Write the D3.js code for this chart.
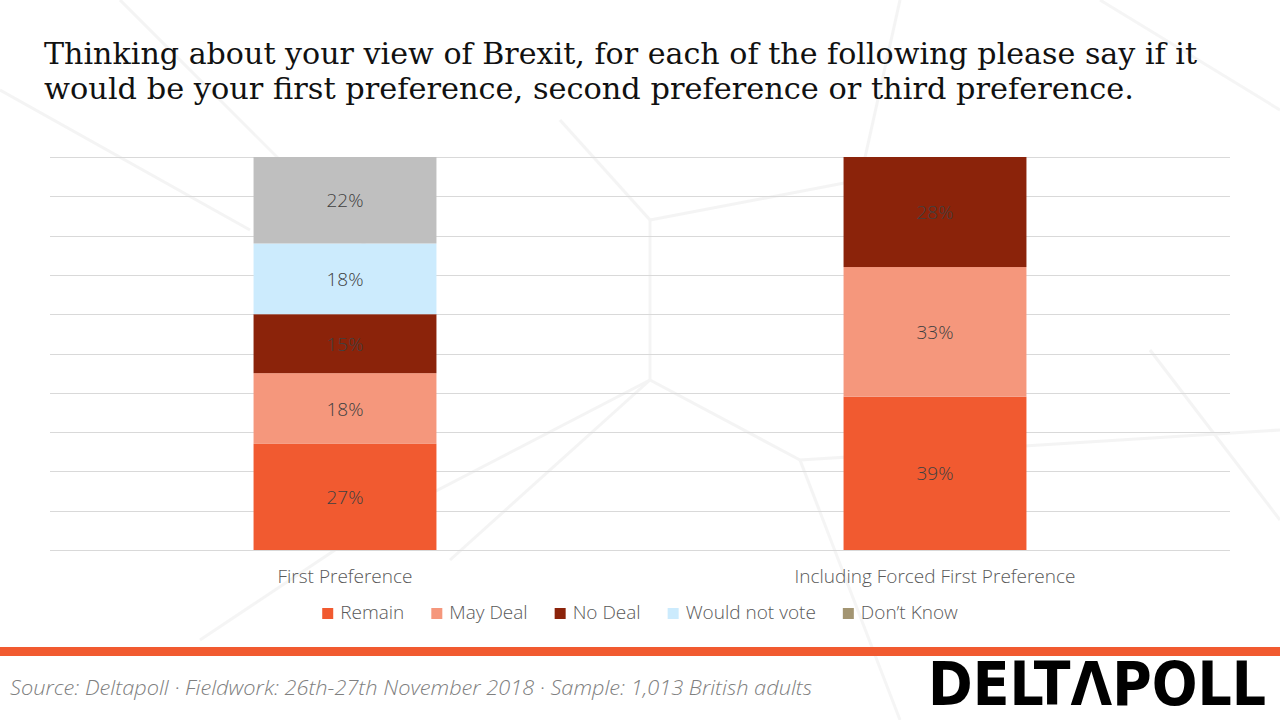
<!DOCTYPE html>
<html>
<head>
<meta charset="utf-8">
<script src="https://cdn.jsdelivr.net/npm/d3@7"></script>
<style>
  html, body { margin: 0; padding: 0; background: #ffffff; }
  svg { display: block; }
</style>
</head>
<body>
<svg id="chart" width="1280" height="720"></svg>
<script>
// ---------- data ----------
const titleLines = [
  "Thinking about your view of Brexit, for each of the following please say if it",
  "would be your first preference, second preference or third preference."
];
const categories = ["First Preference", "Including Forced First Preference"];
const seriesNames = ["Remain", "May Deal", "No Deal", "Would not vote", "Don\u2019t Know"];
const remain = [27, 39];
const mayDeal = [18, 33];
const noDeal = [15, 28];
const wouldNotVote = [18, 0];
const dontKnow = [22, 0];
const barColors = ["#F15A30", "#F5977C", "#8B230A", "#CCEBFD", "#BFBFBF"];
const legendColors = ["#F15A30", "#F5977C", "#8B230A", "#CCEBFD", "#A39572"];
const yTicks = [0, 10, 20, 30, 40, 50, 60, 70, 80, 90, 100];
const sourceText = "Source: Deltapoll \u00B7 Fieldwork:  26th-27th November 2018 \u00B7 Sample: 1,013 British  adults";
const logoText = "DELT\u039BPOLL";

// ---------- build ----------
const svg = d3.select("#chart");
const W = 1280, H = 720;
const plot = { left: 50, right: 1230, top: 157, bottom: 550 };

svg.append("rect").attr("width", W).attr("height", H).attr("fill", "#ffffff");

// faint decorative network background
const bgLines = [
  [[0, 90], [250, 230]], [[120, 0], [420, 300]], [[380, 520], [650, 380]],
  [[650, 380], [800, 460]], [[650, 220], [650, 380]], [[560, 120], [650, 220]],
  [[650, 220], [860, 180]], [[800, 460], [900, 720]], [[800, 460], [1280, 430]],
  [[1100, 0], [1280, 110]], [[900, 0], [860, 180]], [[450, 560], [650, 380]],
  [[860, 180], [1000, 330]], [[200, 640], [380, 520]], [[1150, 350], [1280, 520]]
];
const bg = svg.append("g").attr("stroke", "#EEEEEE").attr("stroke-width", 3).attr("fill", "none").attr("opacity", 0.6);
bg.selectAll("line").data(bgLines).join("line")
  .attr("x1", d => d[0][0]).attr("y1", d => d[0][1])
  .attr("x2", d => d[1][0]).attr("y2", d => d[1][1]);

// title
const title = svg.append("g");
titleLines.forEach((t, i) => {
  title.append("text")
    .attr("x", 44).attr("y", 64 + i * 35)
    .attr("font-family", "'DejaVu Serif', serif")
    .attr("font-size", 29)
    .attr("fill", "#111111")
    .attr("textLength", i === 0 ? 1153 : 1090)
    .attr("lengthAdjust", "spacingAndGlyphs")
    .text(t);
});

const x = d3.scaleBand().domain(categories)
  .range([plot.left, plot.right])
  .paddingInner(0.69).paddingOuter(0.345);
const y = d3.scaleLinear().domain([0, 100]).range([plot.bottom, plot.top]);

// gridlines
svg.append("g").selectAll("line").data(yTicks).join("line")
  .attr("x1", plot.left).attr("x2", plot.right)
  .attr("y1", d => Math.round(y(d)) + 0.5).attr("y2", d => Math.round(y(d)) + 0.5)
  .attr("stroke", "#D9D9D9").attr("stroke-width", 1);

// stack
const table = categories.map((c, i) => ({
  cat: c,
  "Remain": remain[i],
  "May Deal": mayDeal[i],
  "No Deal": noDeal[i],
  "Would not vote": wouldNotVote[i],
  "Don\u2019t Know": dontKnow[i]
}));
const stack = d3.stack().keys(seriesNames)(table);

const layers = svg.append("g").selectAll("g").data(stack).join("g")
  .attr("fill", (d, i) => barColors[i]);
layers.selectAll("rect").data(d => d.filter(p => p[1] - p[0] > 0)).join("rect")
  .attr("x", d => x(d.data.cat))
  .attr("width", x.bandwidth())
  .attr("y", d => y(d[1]))
  .attr("height", d => y(d[0]) - y(d[1]));

// value labels
const labels = svg.append("g");
stack.forEach(layer => {
  layer.forEach(p => {
    const v = p[1] - p[0];
    if (v <= 0) return;
    labels.append("text")
      .attr("x", x(p.data.cat) + x.bandwidth() / 2)
      .attr("y", (y(p[0]) + y(p[1])) / 2 + 7)
      .attr("text-anchor", "middle")
      .attr("font-family", "'Open Sans', sans-serif")
      .attr("font-weight", 300)
      .attr("font-size", 19)
      .attr("fill", "#404040")
      .text(v + "%");
  });
});

// category axis labels
const xAxis = d3.axisBottom(x).tickSize(0).tickPadding(0);
const xg = svg.append("g").attr("transform", `translate(0, ${plot.bottom + 14})`).call(xAxis);
xg.select(".domain").remove();
xg.selectAll("text")
  .attr("dy", "1.0em")
  .attr("font-family", "'Open Sans', sans-serif")
  .attr("font-weight", 300)
  .attr("font-size", 19)
  .attr("fill", "#595959");

// legend
const legend = svg.append("g");
let lx = 0;
const gap = 27;
seriesNames.forEach((name, i) => {
  const g = legend.append("g");
  g.append("rect").attr("x", 0).attr("y", -11).attr("width", 11).attr("height", 11)
    .attr("fill", legendColors[i]);
  const t = g.append("text").attr("x", 18).attr("y", 0)
    .attr("font-family", "'Open Sans', sans-serif")
    .attr("font-weight", 300)
    .attr("font-size", 19)
    .attr("fill", "#595959")
    .text(name);
  const w = 18 + t.node().getComputedTextLength();
  g.attr("transform", `translate(${lx}, 0)`);
  lx += w + gap;
});
const legendW = lx - gap;
legend.attr("transform", `translate(${(plot.left + plot.right) / 2 - legendW / 2}, 619)`);

// footer bar
svg.append("rect").attr("x", 0).attr("y", 647).attr("width", W).attr("height", 9).attr("fill", "#F15A30");

// source
svg.append("text")
  .attr("x", 10).attr("y", 695)
  .attr("font-family", "'Open Sans', sans-serif")
  .attr("font-style", "italic")
  .attr("font-weight", 300)
  .attr("font-size", 20)
  .attr("fill", "#808080")
  .attr("textLength", 802)
  .attr("lengthAdjust", "spacingAndGlyphs")
  .text(sourceText);

// logo
svg.append("text")
  .attr("x", 928).attr("y", 705)
  .attr("font-family", "'DejaVu Sans Condensed', 'DejaVu Sans', sans-serif")
  .attr("font-weight", "bold")
  .attr("font-size", 60)
  .attr("fill", "#000000")
  .attr("textLength", 338)
  .attr("lengthAdjust", "spacingAndGlyphs")
  .text(logoText);
</script>
</body>
</html>
